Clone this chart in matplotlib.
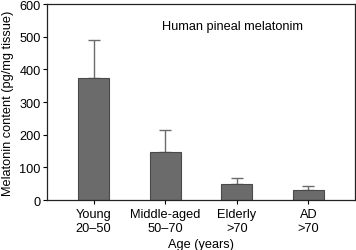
import matplotlib
matplotlib.use('Agg')

import matplotlib.pyplot as plt
import numpy as np

plt.rcParams['font.family'] = ['Liberation Sans', 'DejaVu Sans']

groups = ['Young\n20\u201350', 'Middle-aged\n50\u201370', 'Elderly\n>70', 'AD\n>70']
melatonin = [373, 146, 49, 31]
err_up = [117, 67, 19, 13]

fs = 9.2

fig = plt.figure(figsize=(3.56, 2.51), dpi=100)
ax = fig.add_axes([0.132, 0.199, 0.865, 0.781])

x = np.arange(len(groups))
ax.bar(x, melatonin, width=0.43, color='#6b6b6b', edgecolor='#4a4a4a', linewidth=0.8, zorder=2)
ax.errorbar(x, melatonin, yerr=[np.zeros(len(err_up)), err_up], fmt='none',
            ecolor='#6b6b6b', elinewidth=1.0, capsize=4.5, capthick=1.0, zorder=1)

ax.set_xlim(-0.65, 3.65)
ax.set_ylim(0, 600)
ax.set_yticks([0, 100, 200, 300, 400, 500, 600])
ax.set_xticks(x)
ax.set_xticklabels(groups, fontsize=fs, linespacing=1.2)
ax.tick_params(axis='y', labelsize=fs, direction='out', length=3, width=0.8, pad=1.5)
ax.tick_params(axis='x', direction='out', length=3, width=0.8, pad=3)

for s in ax.spines.values():
    s.set_linewidth(0.9)
    s.set_color('#222222')

ax.set_ylabel('Melatonin content (pg/mg tissue)', fontsize=fs, labelpad=4)
ax.set_xlabel('Age (years)', fontsize=fs, labelpad=3)
ax.text(0.373, 0.89, 'Human pineal melatonim', transform=ax.transAxes, fontsize=fs, ha='left', va='center')

fig.savefig('out.png', dpi=100)
